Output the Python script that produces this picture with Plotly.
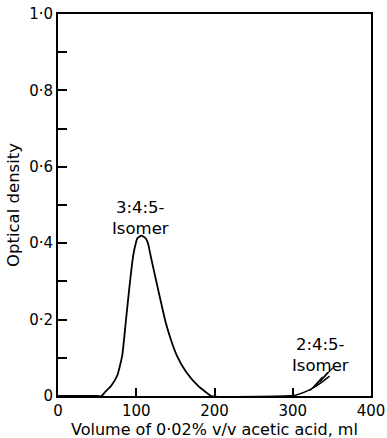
import plotly.graph_objects as go

# 3:4:5-isomer elution curve
vol_345 = [0, 50, 55.6, 60, 68, 75.6, 82, 86.6, 91, 96, 99.4, 101.5, 106.6, 112, 115, 118.5, 127.8, 137.6, 144, 152, 164, 178.7, 189, 196, 300]
od_345 = [0, 0, 0, 0.01, 0.027, 0.053, 0.105, 0.193, 0.28, 0.366, 0.40, 0.413, 0.42, 0.413, 0.40, 0.366, 0.28, 0.193, 0.149, 0.105, 0.062, 0.027, 0.01, 0.0, 0.0]
# 2:4:5-isomer start of elution
vol_245 = [300, 315, 330, 347]
od_245 = [0, 0.01, 0.026, 0.052]

xticks = [0, 100, 200, 300, 400]
xlabels = ["0", "100", "200", "300", "400"]
yticks = [0, 0.1, 0.2, 0.3, 0.4, 0.5, 0.6, 0.7, 0.8, 0.9, 1.0]
ylabels = ["0", "", "0·2", "", "0·4", "", "0·6", "", "0·8", "", "1·0"]
x_title = "Volume of 0·02% v/v acetic acid, ml"
y_title = "Optical density"

font = "DejaVu Sans"
fs_tick = 15
fs_title = 16
m_b = 42
plot_h = 438 - 14 - m_b
fig = go.Figure()
fig.add_trace(go.Scatter(x=vol_345, y=od_345, mode="lines", line=dict(color="black", width=1.8, shape="spline", smoothing=0.5), hoverinfo="skip"))
fig.add_trace(go.Scatter(x=vol_245, y=od_245, mode="lines", line=dict(color="black", width=1.5, shape="spline"), hoverinfo="skip"))
# hatch strokes near the 2:4:5 curve
for dx in [0, 7, 13]:
    fig.add_trace(go.Scatter(x=[322 + dx, 338 + dx], y=[0.014 + dx * 0.0018, 0.05 + dx * 0.0018], mode="lines", line=dict(color="black", width=1.2), hoverinfo="skip"))

fig.add_annotation(x=106, y=0.467, text="3:4:5-<br>Isomer", showarrow=False, font=dict(family=font, size=16.5, color="black"), align="center")
fig.add_annotation(x=335, y=0.107, text="2:4:5-<br>Isomer", showarrow=False, font=dict(family=font, size=16.5, color="black"), align="center")
fig.add_annotation(x=0.5, xref="paper", y=-m_b / plot_h, yref="paper", yanchor="bottom", xanchor="center", yshift=-3,
                   text=x_title, showarrow=False, font=dict(family=font, size=fs_title, color="black"))

fig.update_layout(
    width=387, height=438,
    margin=dict(l=58, r=16, t=14, b=m_b, autoexpand=False),
    paper_bgcolor="white", plot_bgcolor="white",
    showlegend=False,
    font=dict(family=font, size=fs_tick, color="black"),
    xaxis=dict(range=[0, 400], tickvals=xticks, ticktext=xlabels, ticks="inside", ticklen=8, tickwidth=1.6, tickcolor="black",
               showline=True, linecolor="black", linewidth=1.8, mirror=True, showgrid=False, zeroline=False, automargin=False,
               tickfont=dict(size=fs_tick)),
    yaxis=dict(range=[0, 1.0], tickvals=yticks, ticktext=ylabels, ticks="inside", ticklen=9, tickwidth=1.6, tickcolor="black",
               showline=True, linecolor="black", linewidth=1.8, mirror=True, showgrid=False, zeroline=False, automargin=False,
               title=dict(text=y_title, standoff=5, font=dict(size=16.5)), tickfont=dict(size=fs_tick)),
)
fig.write_html("out.html")
